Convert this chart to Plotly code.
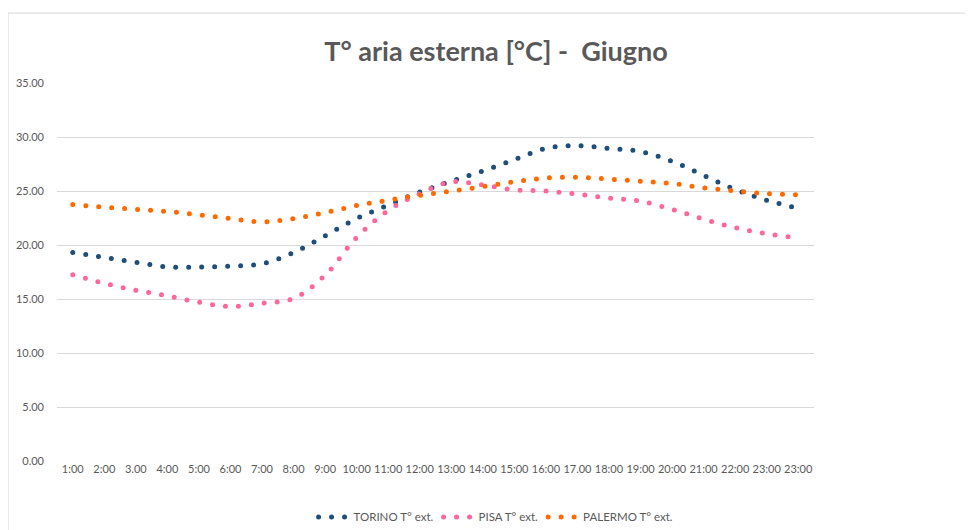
import plotly.graph_objects as go

# hourly outdoor temperatures, June
hours = ["1:00", "2:00", "3.00", "4:00", "5:00", "6:00", "7:00", "8:00", "9:00", "10:00",
         "11:00", "12:00", "13:00", "14:00", "15:00", "16:00", "17.00", "18:00", "19:00",
         "20:00", "21:00", "22:00", "23:00", "23:00"]
torino = [19.3, 18.85, 18.4, 17.97, 17.95, 18.05, 18.27, 19.3, 20.85, 22.45, 23.7, 24.9,
          25.9, 26.85, 27.9, 28.95, 29.2, 28.95, 28.65, 27.75, 26.45, 25.15, 24.15, 23.4]
pisa = [17.25, 16.45, 15.8, 15.3, 14.7, 14.3, 14.6, 15.05, 17.2, 20.7, 23.2, 24.75,
        25.85, 25.55, 25.1, 25.0, 24.7, 24.35, 24.05, 23.3, 22.4, 21.6, 21.05, 20.65]
palermo = [23.75, 23.5, 23.3, 23.1, 22.8, 22.45, 22.15, 22.45, 23.0, 23.65, 24.15, 24.6,
           25.0, 25.4, 25.85, 26.2, 26.27, 26.1, 25.9, 25.7, 25.3, 25.0, 24.75, 24.65]
y_ticks = [0, 5, 10, 15, 20, 25, 30, 35]

series = [
    ("TORINO T° ext.", torino, "#1F4E79"),
    ("PISA T° ext.", pisa, "#FF6699"),
    ("PALERMO T° ext.", palermo, "#FF6A00"),
]

xs = list(range(len(hours)))
fig = go.Figure()
for name, vals, col in series:
    fig.add_trace(go.Scatter(
        x=xs, y=vals, mode="lines", name=name,
        line=dict(color=col, width=5, dash="0px,13px", shape="spline"),
    ))

grey = "#595959"
# the page adds an 8px body margin, so margins are set 8px smaller
fig.update_layout(
    width=973, height=530,
    margin=dict(l=49, r=167, t=75, b=77, autoexpand=False),
    paper_bgcolor="white", plot_bgcolor="white",
    font=dict(family="Lato, Open Sans, sans-serif", color=grey, size=11),
    title=dict(text="T° aria esterna [°C] -\u00a0 Giugno", x=0.58, xref="paper",
               xanchor="center", y=0.917, yanchor="middle",
               font=dict(size=27, color=grey, family="Lato, sans-serif", weight="bold")),
    showlegend=True,
    legend=dict(orientation="h", x=0.58, xanchor="center", y=-0.148, yanchor="middle",
                font=dict(size=11.5, color=grey), itemwidth=30, traceorder="normal"),
    xaxis=dict(range=[-0.5, len(hours) - 0.5], tickvals=xs, ticktext=hours,
               showgrid=False, zeroline=False, showline=False, ticks="",
               tickfont=dict(size=11, color=grey)),
    yaxis=dict(range=[0, 35], tickvals=y_ticks, tickformat=".2f",
               showgrid=True, gridcolor="#D9D9D9", gridwidth=1, zeroline=False,
               showline=False, ticks="", ticklabelstandoff=12,
               tickfont=dict(size=11, color=grey)),
)

# chart area border, as in the spreadsheet export
fig.add_shape(type="rect", xref="paper", yref="paper",
              x0=-0.0647, x1=1.25, y0=-0.25, y1=1.185,
              line=dict(color="#D9D9D9", width=1), fillcolor="rgba(0,0,0,0)", layer="below")

# round caps turn the zero-length dashes into round dots
js = "document.querySelectorAll('path.js-line').forEach(function(p){p.style.strokeLinecap='round';});"
fig.write_html("out.html", post_script=js)
